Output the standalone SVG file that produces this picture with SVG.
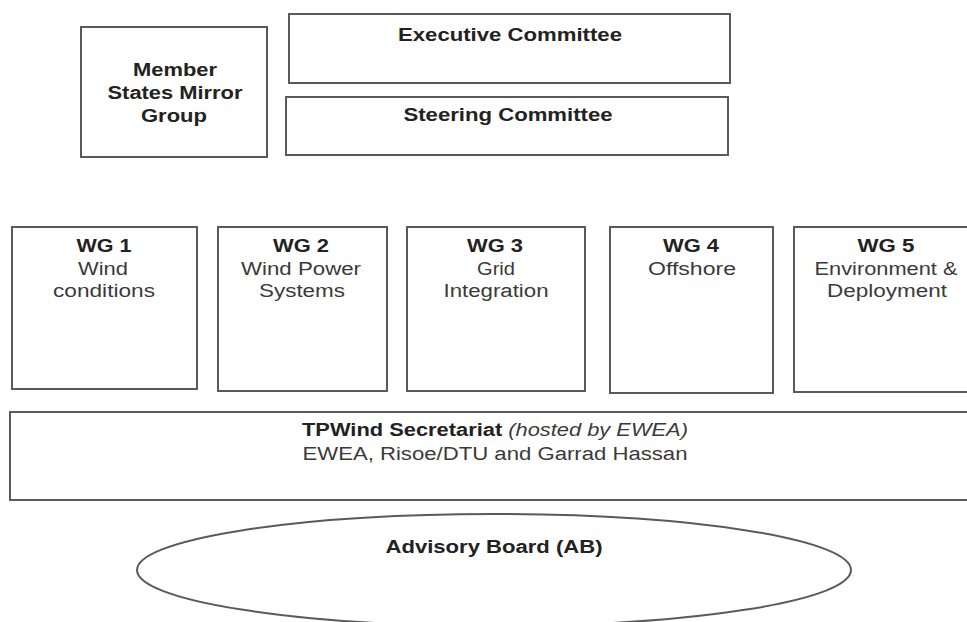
<svg xmlns="http://www.w3.org/2000/svg" width="967" height="622" viewBox="0 0 967 622">
<style>
.box{fill:#fff;stroke:#5a5a5a;stroke-width:2}
text{font-family:"Liberation Sans",Arial,sans-serif;font-size:18px;text-anchor:middle}
.b{font-weight:bold;fill:#222}
.r{fill:#3a3a3a}
.i{font-style:italic;font-weight:normal;fill:#3a3a3a}
</style>
<rect width="967" height="622" fill="#fff"/>
<g id="connectors"></g>
<g id="member-states">
<rect class="box" x="81" y="27" width="186" height="130"/>
<text class="b" x="175" y="76" textLength="84" lengthAdjust="spacingAndGlyphs">Member</text>
<text class="b" x="175" y="99" textLength="135" lengthAdjust="spacingAndGlyphs">States Mirror</text>
<text class="b" x="174" y="122" textLength="66" lengthAdjust="spacingAndGlyphs">Group</text>
</g>
<g id="executive">
<rect class="box" x="289" y="14" width="441" height="69"/>
<text class="b" x="510" y="41" textLength="224" lengthAdjust="spacingAndGlyphs">Executive Committee</text>
</g>
<g id="steering">
<rect class="box" x="286" y="97" width="442" height="58"/>
<text class="b" x="508" y="121" textLength="209" lengthAdjust="spacingAndGlyphs">Steering Committee</text>
</g>
<g id="wg1">
<rect class="box" x="12" y="227" width="185" height="162"/>
<text class="b" x="104" y="252" textLength="55" lengthAdjust="spacingAndGlyphs">WG 1</text>
<text class="r" x="103" y="275" textLength="50" lengthAdjust="spacingAndGlyphs">Wind</text>
<text class="r" x="104" y="297" textLength="102" lengthAdjust="spacingAndGlyphs">conditions</text>
</g>
<g id="wg2">
<rect class="box" x="218" y="227" width="169" height="164"/>
<text class="b" x="301" y="252" textLength="56" lengthAdjust="spacingAndGlyphs">WG 2</text>
<text class="r" x="301" y="275" textLength="120" lengthAdjust="spacingAndGlyphs">Wind Power</text>
<text class="r" x="302" y="297" textLength="86" lengthAdjust="spacingAndGlyphs">Systems</text>
</g>
<g id="wg3">
<rect class="box" x="407" y="227" width="178" height="164"/>
<text class="b" x="495" y="252" textLength="56" lengthAdjust="spacingAndGlyphs">WG 3</text>
<text class="r" x="496" y="275" textLength="38" lengthAdjust="spacingAndGlyphs">Grid</text>
<text class="r" x="496" y="297" textLength="105" lengthAdjust="spacingAndGlyphs">Integration</text>
</g>
<g id="wg4">
<rect class="box" x="610" y="227" width="163" height="166"/>
<text class="b" x="691" y="252" textLength="56" lengthAdjust="spacingAndGlyphs">WG 4</text>
<text class="r" x="692" y="275" textLength="88" lengthAdjust="spacingAndGlyphs">Offshore</text>
</g>
<g id="wg5">
<rect class="box" x="794" y="227" width="186" height="165"/>
<text class="b" x="886" y="252" textLength="57" lengthAdjust="spacingAndGlyphs">WG 5</text>
<text class="r" x="886" y="275" textLength="143" lengthAdjust="spacingAndGlyphs">Environment &amp;</text>
<text class="r" x="887" y="297" textLength="120" lengthAdjust="spacingAndGlyphs">Deployment</text>
</g>
<g id="secretariat">
<rect class="box" x="10" y="412" width="975" height="88"/>
<text class="b" x="495" y="436" textLength="386" lengthAdjust="spacingAndGlyphs">TPWind Secretariat <tspan class="i">(hosted by EWEA)</tspan></text>
<text class="r" x="495" y="460" textLength="385" lengthAdjust="spacingAndGlyphs">EWEA, Risoe/DTU and Garrad Hassan</text>
</g>
<g id="advisory-board">
<ellipse class="box" cx="494" cy="570" rx="357" ry="56"/>
<text class="b" x="494" y="553" textLength="217" lengthAdjust="spacingAndGlyphs">Advisory Board (AB)</text>
</g>
</svg>
